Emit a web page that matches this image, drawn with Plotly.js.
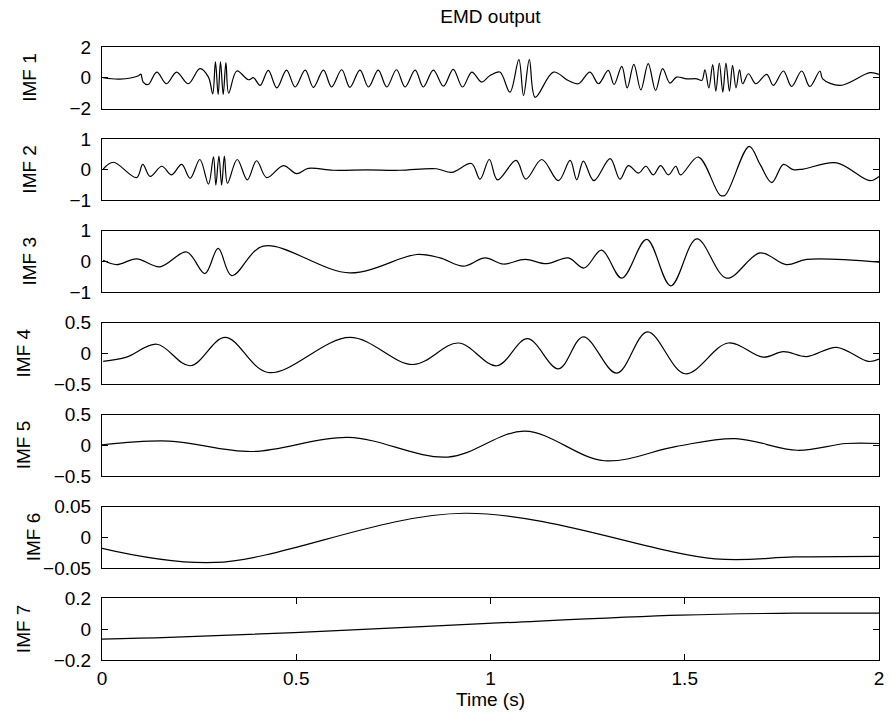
<!DOCTYPE html>
<html>
<head>
<meta charset="utf-8">
<script src="https://cdn.plot.ly/plotly-3.0.1.min.js"></script>
<style>html,body{margin:0;padding:0;background:#fff;}#chart{width:891px;height:727px;}</style>
</head>
<body>
<div id="chart"></div>
<script>
// ---- data (extrema / key points, time in s) ----
const imf1T = [0.003,0.046,0.094,0.100,0.106,0.119,0.141,0.166,0.192,0.222,0.252,0.274,0.285,0.292,0.299,0.305,0.312,0.319,0.326,0.347,0.377,0.390,0.407,0.428,0.450,0.475,0.497,0.523,0.544,0.570,0.591,0.617,0.638,0.664,0.686,0.711,0.733,0.758,0.780,0.806,0.827,0.853,0.879,0.904,0.928,0.952,0.977,0.999,1.024,1.050,1.073,1.085,1.100,1.115,1.162,1.200,1.226,1.256,1.278,1.303,1.318,1.338,1.352,1.369,1.387,1.406,1.425,1.443,1.462,1.479,1.505,1.531,1.544,1.552,1.562,1.572,1.580,1.589,1.598,1.606,1.615,1.623,1.632,1.641,1.649,1.664,1.683,1.711,1.728,1.754,1.775,1.801,1.822,1.848,1.855,1.900,1.977,2.000];
const imf1V = [0,-0.09,0.13,0.24,-0.28,-0.44,0.37,-0.39,0.37,-0.39,0.59,0.04,-1.05,1.03,-1.09,1.03,-1.09,0.98,-1.0,0.44,-0.13,0.0,-0.5,0.48,-0.66,0.5,-0.6,0.5,-0.62,0.5,-0.6,0.52,-0.62,0.5,-0.6,0.5,-0.6,0.52,-0.6,0.5,-0.6,0.5,-0.55,0.55,-0.6,0.37,-0.28,0.15,0.37,-0.94,1.18,-1.16,1.18,-1.27,0.37,-0.18,-0.39,0.37,-0.39,0.48,-0.44,0.74,-0.66,0.87,-0.79,0.92,-0.83,0.59,-0.35,0.04,-0.07,-0.07,-0.17,0.52,-0.66,0.85,-0.87,0.96,-0.94,0.96,-0.87,0.81,-0.66,0.52,-0.39,0.26,-0.39,0.22,-0.5,0.44,-0.57,0.44,-0.57,0.44,-0.07,-0.5,0.33,0.22];

const imf2T = [0.003,0.029,0.089,0.105,0.124,0.154,0.179,0.205,0.227,0.252,0.274,0.287,0.293,0.301,0.308,0.315,0.323,0.348,0.374,0.398,0.424,0.467,0.501,0.531,0.595,0.681,0.767,0.861,0.900,0.951,0.973,0.997,1.018,1.066,1.091,1.132,1.175,1.205,1.222,1.239,1.266,1.308,1.333,1.355,1.381,1.400,1.419,1.438,1.458,1.477,1.489,1.535,1.591,1.604,1.666,1.694,1.724,1.754,1.779,1.805,1.891,1.977,2.000];
const imf2V = [0.02,0.24,-0.26,0.17,-0.22,0.11,-0.17,0.17,-0.28,0.33,-0.47,0.42,-0.5,0.44,-0.5,0.44,-0.44,0.33,-0.33,0.29,-0.26,0.13,-0.13,0.04,-0.02,-0.01,-0.02,0.03,-0.09,0.2,-0.31,0.33,-0.33,0.3,-0.31,0.33,-0.36,0.3,-0.33,0.28,-0.36,0.36,-0.31,0.13,-0.11,0.11,-0.17,0.13,-0.17,0.11,-0.17,0.41,-0.83,-0.83,0.76,0.17,-0.42,0.17,0.0,0.02,0.22,-0.36,-0.22];

const imf3T = [0.003,0.038,0.089,0.149,0.218,0.265,0.299,0.334,0.415,0.638,0.810,0.870,0.930,0.986,1.033,1.089,1.145,1.200,1.241,1.286,1.338,1.402,1.464,1.531,1.608,1.694,1.762,1.814,2.000];
const imf3V = [0.04,-0.1,0.09,-0.17,0.31,-0.39,0.43,-0.46,0.5,-0.37,0.23,0.12,-0.15,0.12,-0.08,0.07,-0.07,0.12,-0.21,0.37,-0.54,0.72,-0.79,0.74,-0.54,0.28,-0.1,0.07,-0.02];

const imf4T = [0.003,0.063,0.141,0.227,0.317,0.428,0.638,0.801,0.917,1.016,1.095,1.175,1.239,1.325,1.404,1.501,1.612,1.702,1.754,1.814,1.891,1.973,2.000];
const imf4V = [-0.13,-0.06,0.15,-0.2,0.26,-0.31,0.26,-0.18,0.17,-0.2,0.24,-0.25,0.27,-0.32,0.35,-0.33,0.17,-0.06,0.03,-0.05,0.1,-0.13,-0.09];

const imf5T = [0.000,0.173,0.385,0.634,0.890,1.088,1.293,1.476,1.630,1.790,1.915,2.000];
const imf5V = [0.01,0.07,-0.1,0.13,-0.19,0.23,-0.25,-0.02,0.11,-0.08,0.03,0.03];

const imf6T = [0.000,0.290,0.934,1.578,1.783,2.000];
const imf6V = [-0.018,-0.041,0.039,-0.035,-0.032,-0.031];

const imf7T = [0.000,0.173,0.495,0.993,1.490,1.783,2.000];
const imf7V = [-0.065,-0.054,-0.022,0.037,0.091,0.104,0.104];

const labels = ['IMF 1','IMF 2','IMF 3','IMF 4','IMF 5','IMF 6','IMF 7'];
const yRanges = [[-2,2],[-1,1],[-1,1],[-0.5,0.5],[-0.5,0.5],[-0.05,0.05],[-0.2,0.2]];
const xTicks = [0,0.5,1,1.5,2];
const series = [[imf1T,imf1V],[imf2T,imf2V],[imf3T,imf3V],[imf4T,imf4V],[imf5T,imf5V],[imf6T,imf6V],[imf7T,imf7V]];
const labelX = [30,30,30,23,23,33,23];

// ---- layout ----
const W = 891, H = 727;
const mL = 102, mR = 12, mT = 47, mB = 67;
const plotH = H - mT - mB;
const panelH = 61.5, pitch = 91.9;
const font = {family: 'Liberation Sans, Arial, sans-serif', size: 19, color: '#000'};

const traces = [];
const layout = {
  width: W, height: H,
  margin: {l: mL, r: mR, t: mT, b: mB},
  paper_bgcolor: '#fff', plot_bgcolor: '#fff',
  showlegend: false,
  font: font,
  title: {text: 'EMD output', font: {family: font.family, size: 19, color: '#000'},
          x: 0.5, xref: 'paper', y: 1 - 16/H, yref: 'container', yanchor: 'middle'},
  annotations: []
};

series.forEach((s, i) => {
  const n = i + 1;
  const xa = n === 1 ? 'x' : 'x' + n;
  const ya = n === 1 ? 'y' : 'y' + n;
  traces.push({x: s[0], y: s[1], xaxis: xa, yaxis: ya, type: 'scatter', mode: 'lines',
               line: {color: '#000', width: 1.2, shape: 'spline', smoothing: 1}, hoverinfo: 'skip'});
  const top = 1 - (i * pitch) / plotH;
  const bot = 1 - (i * pitch + panelH) / plotH;
  const last = (i === series.length - 1);
  layout['xaxis' + (n === 1 ? '' : n)] = {
    domain: [0, 1], anchor: ya, range: [0, 2],
    showline: true, linecolor: '#000', linewidth: 1, mirror: last ? 'ticks' : true,
    ticks: last ? 'inside' : '', ticklen: 6, tickcolor: '#000',
    tickvals: xTicks, showticklabels: last, showgrid: false, zeroline: false,
    tickfont: font, ticklabelstandoff: 1,
    title: last ? {text: 'Time (s)', font: font, standoff: 2} : {text: ''}
  };
  const r = yRanges[i];
  layout['yaxis' + (n === 1 ? '' : n)] = {
    domain: [bot, top], anchor: xa, range: r,
    showline: true, linecolor: '#000', linewidth: 1, mirror: 'ticks',
    ticks: 'inside', ticklen: 6, tickcolor: '#000',
    tickvals: [r[0], 0, r[1]], showgrid: false, zeroline: false,
    tickfont: font, ticklabelstandoff: 6
  };
  layout.annotations.push({
    text: labels[i], textangle: -90, showarrow: false,
    xref: 'paper', x: (labelX[i] - mL) / (W - mL - mR), xanchor: 'center',
    yref: 'paper', y: (top + bot) / 2, yanchor: 'middle',
    font: font
  });
});

Plotly.newPlot('chart', traces, layout, {staticPlot: true, displayModeBar: false});
</script>
</body>
</html>
